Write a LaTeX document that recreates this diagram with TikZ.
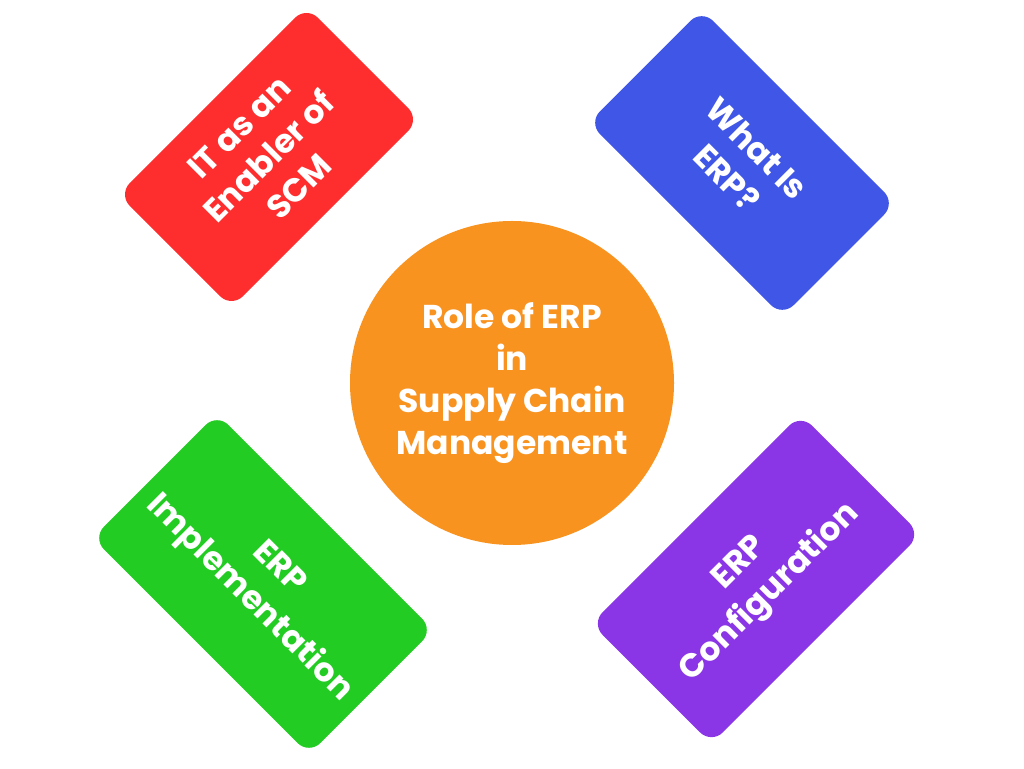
\documentclass[tikz,border=0pt]{standalone}
\usepackage{fontspec}
\setmainfont{Poppins}
\usepackage{tikz}
\definecolor{roleorange}{RGB}{248,147,32}
\definecolor{scmred}{RGB}{255,46,46}
\definecolor{erpblue}{RGB}{63,86,230}
\definecolor{implgreen}{RGB}{34,204,34}
\definecolor{confpurple}{RGB}{138,54,230}

\begin{document}
\begin{tikzpicture}[x=1pt,y=1pt]
    \tikzstyle{every node}=[font=\bfseries\fontsize{33}{42}\selectfont,text=white,align=center,inner sep=0pt]
    \tikzstyle{card}=[rectangle,rounded corners=16pt]
    \tikzstyle{hub}=[circle,fill=roleorange,minimum size=324pt]
      \useasboundingbox (0,0) rectangle (1024,768);
      \node[hub]   (role)    at (512,385) {Role of ERP\\in\\Supply Chain\\Management};
      \node[card,fill=scmred,rotate=45,minimum width=266pt,minimum height=160pt]      (enabler) at (269,611) {IT as an\\Enabler of\\SCM};
      \node[card,fill=erpblue,rotate=-45,minimum width=274pt,minimum height=160pt]    (whatis)  at (742,605) {What Is\\ERP?};
      \node[card,fill=implgreen,rotate=-45,minimum width=306pt,minimum height=176pt]  (impl)    at (263,184) {ERP\\Implementation};
      \node[card,fill=confpurple,rotate=45,minimum width=296pt,minimum height=170pt]  (config)  at (756,189) {ERP\\Configuration};
    \end{tikzpicture}
\end{document}
